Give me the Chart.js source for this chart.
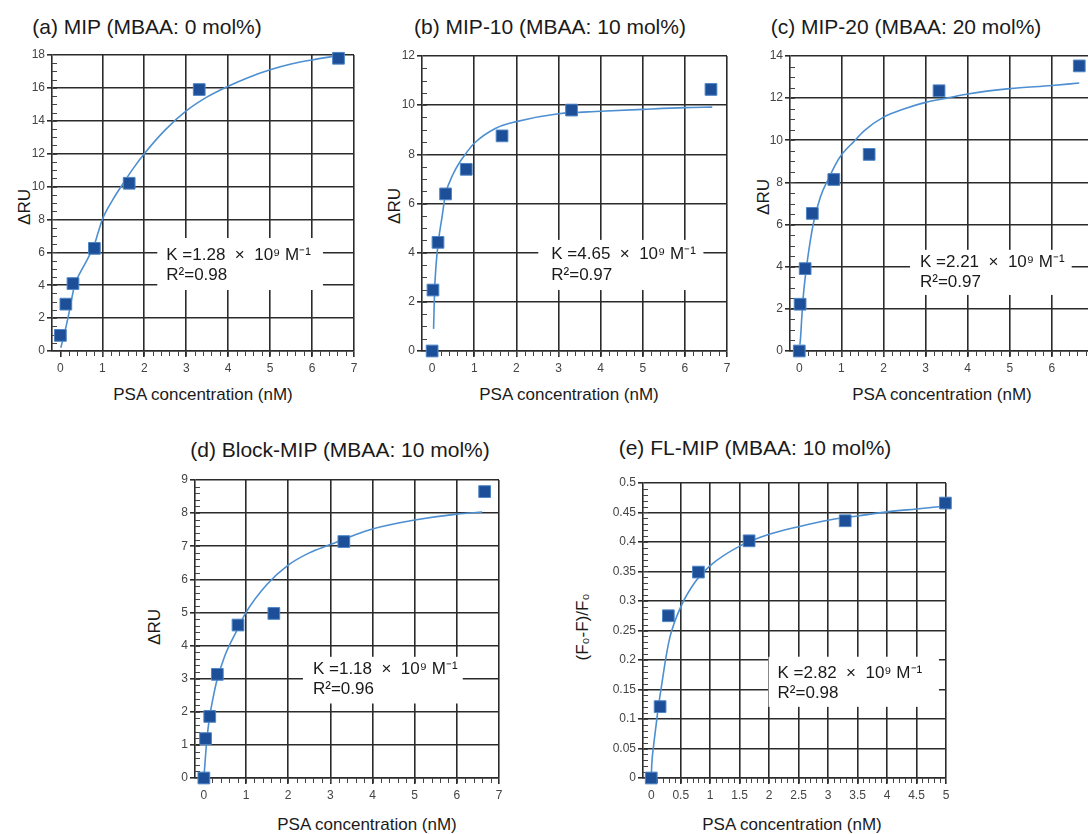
<!DOCTYPE html>
<html>
<head>
<meta charset="utf-8">
<script src="https://cdn.jsdelivr.net/npm/chart.js@4"></script>
<style>
  body { margin: 0; background: #fff; width: 1088px; height: 834px; overflow: hidden; position: relative;
         font-family: "Liberation Sans", Arial, sans-serif; color: #1a1a1a; }
  canvas { position: absolute; }
  .t { position: absolute; white-space: nowrap; transform: translate(-50%, -50%); }
  .ttl { font-size: 21px; }
  .ax { font-size: 17px; }
  .yl { transform: translate(-50%, -50%) rotate(-90deg); }
</style>
</head>
<body>
<script>
// measured points (PSA nM, response)
const aX = [0, 0.13, 0.30, 0.81, 1.64, 3.31, 6.63];
const aY = [0.95, 2.85, 4.1, 6.24, 10.2, 15.9, 17.8];
const bX = [0, 0.02, 0.14, 0.32, 0.81, 1.66, 3.31, 6.62];
const bY = [0, 2.48, 4.42, 6.39, 7.39, 8.75, 9.8, 10.64];
const cX = [0, 0.02, 0.14, 0.31, 0.82, 1.66, 3.32, 6.65];
const cY = [0, 2.22, 3.91, 6.53, 8.14, 9.33, 12.35, 13.53];
const dX = [0, 0.04, 0.14, 0.32, 0.81, 1.66, 3.32, 6.66];
const dY = [0, 1.19, 1.86, 3.13, 4.62, 4.97, 7.14, 8.65];
const eX = [0, 0.15, 0.29, 0.80, 1.66, 3.29, 4.99];
const eY = [0, 0.121, 0.275, 0.349, 0.402, 0.436, 0.466];

// fitted curves
const aFitX = [0.01, 0.08, 0.18, 0.34, 0.5, 0.65, 0.8, 0.9, 1.0, 1.25, 1.5, 1.75, 2.0, 2.5, 3.0, 3.5, 4.0, 4.5, 5.0, 5.5, 6.0, 6.6];
const aFitY = [0.2, 0.9, 2.0, 4.0, 4.9, 5.6, 6.4, 7.2, 8.0, 9.2, 10.2, 11.15, 12.0, 13.45, 14.6, 15.45, 16.1, 16.65, 17.1, 17.45, 17.7, 17.95];
const bFitX = [0.035, 0.045, 0.06, 0.09, 0.12, 0.16, 0.24, 0.31, 0.5, 0.83, 1.0, 1.5, 2.0, 3.0, 4.0, 5.0, 6.0, 6.65];
const bFitY = [0.9, 1.6, 2.5, 3.4, 4.0, 4.6, 5.5, 6.3, 7.2, 8.1, 8.45, 9.05, 9.33, 9.65, 9.75, 9.83, 9.9, 9.92];
const cFitX = [0.015, 0.03, 0.06, 0.1, 0.18, 0.26, 0.34, 0.5, 0.7, 0.86, 1.0, 1.3, 1.54, 2.0, 2.5, 3.0, 3.5, 4.0, 5.0, 6.0, 6.65];
const cFitY = [0.3, 0.6, 1.6, 2.7, 4.1, 5.2, 6.1, 7.3, 8.2, 8.85, 9.3, 9.95, 10.45, 11.1, 11.5, 11.8, 12.0, 12.2, 12.45, 12.6, 12.72];
const dFitX = [0, 0.03, 0.06, 0.1, 0.15, 0.2, 0.3, 0.5, 0.8, 1.0, 1.5, 2.0, 2.5, 3.0, 3.5, 4.0, 5.0, 6.0, 6.6];
const dFitY = [0, 0.5, 1.0, 1.5, 1.95, 2.3, 2.9, 3.7, 4.5, 5.0, 5.85, 6.43, 6.8, 7.05, 7.3, 7.52, 7.79, 7.97, 8.03];
const eFitX = [0, 0.01, 0.04, 0.08, 0.12, 0.18, 0.25, 0.32, 0.5, 0.75, 1, 1.5, 2, 2.5, 3, 3.5, 4, 4.5, 5];
const eFitY = [0, 0.025, 0.055, 0.088, 0.12, 0.16, 0.205, 0.24, 0.29, 0.333, 0.36, 0.393, 0.413, 0.426, 0.437, 0.444, 0.451, 0.456, 0.461];

// ticks
const xTicks7 = [0, 1, 2, 3, 4, 5, 6, 7];
const xLabels7 = ['0', '1', '2', '3', '4', '5', '6', '7'];
const aYTicks = [0, 2, 4, 6, 8, 10, 12, 14, 16, 18];
const aYLabels = ['0', '2', '4', '6', '8', '10', '12', '14', '16', '18'];
const bYTicks = [0, 2, 4, 6, 8, 10, 12];
const bYLabels = ['0', '2', '4', '6', '8', '10', '12'];
const cYTicks = [0, 2, 4, 6, 8, 10, 12, 14];
const cYLabels = ['0', '2', '4', '6', '8', '10', '12', '14'];
const dYTicks = [0, 1, 2, 3, 4, 5, 6, 7, 8, 9];
const dYLabels = ['0', '1', '2', '3', '4', '5', '6', '7', '8', '9'];
const eXTicks = [0, 0.5, 1, 1.5, 2, 2.5, 3, 3.5, 4, 4.5, 5];
const eXLabels = ['0', '0.5', '1', '1.5', '2', '2.5', '3', '3.5', '4', '4.5', '5'];
const eYTicks = [0, 0.05, 0.1, 0.15, 0.2, 0.25, 0.3, 0.35, 0.4, 0.45, 0.5];
const eYLabels = ['0', '0.05', '0.1', '0.15', '0.2', '0.25', '0.3', '0.35', '0.4', '0.45', '0.5'];

const xName = 'PSA concentration (nM)';

const panels = [
  { title: '(a) MIP (MBAA: 0 mol%)', tx: 147, ty: 27, yName: 'ΔRU', yx: 25, yy: 207, xx: 203, xy: 395,
    area: [52, 55, 354, 351], xMin: -0.2, xMax: 7, yMax: 18, xT: xTicks7, xL: xLabels7, yT: aYTicks, yL: aYLabels,
    mx: 0.2, my: 0.5, px: aX, py: aY, fx: aFitX, fy: aFitY,
    note: ['K =1.28  ×  10⁹ M⁻¹', 'R²=0.98'], box: [2.31, 6.87, 6.26, 3.71], pad: 9, l1: 17, l2: 37 },
  { title: '(b) MIP-10 (MBAA: 10 mol%)', tx: 550, ty: 27, yName: 'ΔRU', yx: 395, yy: 206, xx: 569, xy: 395,
    area: [422, 56, 727, 351], xMin: -0.24, xMax: 7, yMax: 12, xT: xTicks7, xL: xLabels7, yT: bYTicks, yL: bYLabels,
    mx: 0.2, my: 0.5, px: bX, py: bY, fx: bFitX, fy: bFitY,
    note: ['K =4.65  ×  10⁹ M⁻¹', 'R²=0.97'], box: [2.52, 4.52, 6.44, 2.48], pad: 13, l1: 14, l2: 35 },
  { title: '(c) MIP-20 (MBAA: 20 mol%)', tx: 906, ty: 27, yName: 'ΔRU', yx: 764, yy: 197, xx: 942, xy: 395,
    area: [790, 56, 1094, 351], xMin: -0.22, xMax: 7, yMax: 14, xT: xTicks7, xL: xLabels7, yT: cYTicks, yL: cYLabels,
    mx: 0.2, my: 0.5, px: cX, py: cY, fx: cFitX, fy: cFitY,
    note: ['K =2.21  ×  10⁹ M⁻¹', 'R²=0.97'], box: [2.63, 4.8, 6.47, 2.66], pad: 10, l1: 12, l2: 32 },
  { title: '(d) Block-MIP (MBAA: 10 mol%)', tx: 340, ty: 450, yName: 'ΔRU', yx: 155, yy: 627, xx: 367, xy: 825,
    area: [195, 480, 499, 778], xMin: -0.21, xMax: 7, yMax: 9, xT: xTicks7, xL: xLabels7, yT: dYTicks, yL: dYLabels,
    mx: 0.2, my: 0.2, px: dX, py: dY, fx: dFitX, fy: dFitY,
    note: ['K =1.18  ×  10⁹ M⁻¹', 'R²=0.96'], box: [2.35, 3.66, 6.14, 2.25], pad: 10, l1: 12, l2: 32 },
  { title: '(e) FL-MIP (MBAA: 10 mol%)', tx: 755, ty: 448, yName: '(F₀-F)/F₀', yx: 583, yy: 627, xx: 792, xy: 825,
    area: [643, 483, 946, 778], xMin: -0.14, xMax: 5, yMax: 0.5, xT: eXTicks, xL: eXLabels, yT: eYTicks, yL: eYLabels,
    mx: 0.1, my: 0.01, px: eX, py: eY, fx: eFitX, fy: eFitY,
    note: ['K =2.82  ×  10⁹ M⁻¹', 'R²=0.98'], box: [1.99, 0.2055, 4.88, 0.1206], pad: 9, l1: 17, l2: 37 },
];

const gridCol = '#2b2b2b';
const tickFont = { family: '"Liberation Sans", Arial, sans-serif', size: 12 };

function addText(cls, txt, x, y) {
  const d = document.createElement('div');
  d.className = 't ' + cls;
  d.textContent = txt;
  d.style.left = x + 'px';
  d.style.top = y + 'px';
  document.body.appendChild(d);
}

// minor ticks + white label box with K and R2
function decor(p) {
  return {
    id: 'decor',
    beforeDatasetsDraw(chart) {
      const { ctx, chartArea: a, scales: { x, y } } = chart;
      ctx.save();
      ctx.strokeStyle = '#444';
      ctx.lineWidth = 1;
      ctx.beginPath();
      for (let i = 1; i * p.my < p.yMax - 1e-9; i++) {
        const py = Math.round(y.getPixelForValue(i * p.my)) + 0.5;
        ctx.moveTo(a.left, py); ctx.lineTo(a.left + 5, py);
      }
      for (let i = 1; i * p.mx < p.xMax - 1e-9; i++) {
        const px = Math.round(x.getPixelForValue(i * p.mx)) + 0.5;
        ctx.moveTo(px, a.bottom); ctx.lineTo(px, a.bottom + 5);
      }
      ctx.stroke();

      const x1 = x.getPixelForValue(p.box[0]), y1 = y.getPixelForValue(p.box[1]);
      const x2 = x.getPixelForValue(p.box[2]), y2 = y.getPixelForValue(p.box[3]);
      ctx.fillStyle = '#fff';
      ctx.fillRect(x1, y1, x2 - x1, y2 - y1);
      ctx.fillStyle = '#1a1a1a';
      ctx.font = '17px "Liberation Sans", Arial, sans-serif';
      ctx.textBaseline = 'middle';
      ctx.fillText(p.note[0], x1 + p.pad, y1 + p.l1);
      ctx.fillText(p.note[1], x1 + p.pad, y1 + p.l2);
      ctx.restore();
    }
  };
}

panels.forEach(p => {
  addText('ttl', p.title, p.tx, p.ty);
  addText('ax yl', p.yName, p.yx, p.yy);
  addText('ax', xName, p.xx, p.xy);

  const [l, t, r, b] = p.area;
  const cv = document.createElement('canvas');
  // padding 10/15/15/15 plus fixed axis sizes 30 (y) and 25 (x)
  const w = (r - l) + 55, h = (b - t) + 55;
  cv.width = w; cv.height = h;
  cv.style.left = (l - 40) + 'px';
  cv.style.top = (t - 15) + 'px';
  document.body.appendChild(cv);

  new Chart(cv.getContext('2d'), {
    type: 'scatter',
    data: {
      datasets: [
        {
          data: p.px.map((v, i) => ({ x: v, y: p.py[i] })),
          pointStyle: 'rect', pointRadius: 8.3, pointHoverRadius: 8.3,
          backgroundColor: '#1d4f98', borderColor: '#4f86c6', borderWidth: 1,
          clip: false,
        },
        {
          data: p.fx.map((v, i) => ({ x: v, y: p.fy[i] })),
          showLine: true, pointRadius: 0, borderColor: '#4d8fd1', borderWidth: 1.6,
          cubicInterpolationMode: 'monotone', fill: false,
        },
      ]
    },
    options: {
      responsive: false,
      animation: false,
      devicePixelRatio: 1,
      layout: { padding: { left: 10, top: 15, right: 15, bottom: 15 } },
      plugins: { legend: { display: false }, tooltip: { enabled: false } },
      scales: {
        x: {
          type: 'linear', min: p.xMin, max: p.xMax,
          afterBuildTicks: s => { s.ticks = p.xT.map(v => ({ value: v })); },
          afterFit: s => { s.height = 25; },
          ticks: { callback: (v, i) => p.xL[i], font: tickFont, color: '#444', padding: 4, maxRotation: 0, autoSkip: false },
          grid: {
            color: c => (c.tick && c.tick.value === 0) ? 'rgba(0,0,0,0)' : gridCol,
            lineWidth: 1.6, tickLength: 6, tickColor: gridCol
          },
          border: { color: gridCol, width: 1.6 },
        },
        y: {
          type: 'linear', min: 0, max: p.yMax,
          afterBuildTicks: s => { s.ticks = p.yT.map(v => ({ value: v })); },
          afterFit: s => { s.width = 30; },
          ticks: { callback: (v, i) => p.yL[i], font: tickFont, color: '#444', padding: 2, autoSkip: false },
          grid: { color: gridCol, lineWidth: 1.6, tickLength: 5, tickColor: gridCol },
          border: { color: gridCol, width: 1.6 },
        }
      }
    },
    plugins: [decor(p)]
  });
});
</script>
</body>
</html>
